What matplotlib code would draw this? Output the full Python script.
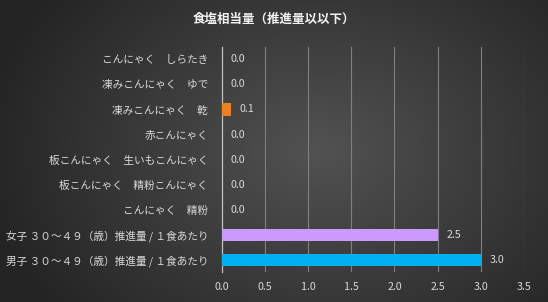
import numpy as np
from matplotlib import pyplot as plt
from matplotlib.colors import LinearSegmentedColormap

plt.rcParams['font.family'] = ['Noto Sans CJK JP', 'DejaVu Sans']
plt.rcParams['font.size'] = 7.7

categories = [
    '男子 ３０～４９（歳）推進量 / １食あたり',
    '女子 ３０～４９（歳）推進量 / １食あたり',
    'こんにゃく　精粉',
    '板こんにゃく　精粉こんにゃく',
    '板こんにゃく　生いもこんにゃく',
    '赤こんにゃく',
    '凍みこんにゃく　乾',
    '凍みこんにゃく　ゆで',
    'こんにゃく　しらたき',
]
values = [3.0, 2.5, 0.0, 0.0, 0.0, 0.0, 0.1, 0.0, 0.0]
colors = ['#00B0F0', '#CC99FF', '#F07F22', '#F07F22', '#F07F22',
          '#F07F22', '#F07F22', '#F07F22', '#F07F22']
xticks = [0.0, 0.5, 1.0, 1.5, 2.0, 2.5, 3.0, 3.5]

fig = plt.figure(figsize=(5.48, 3.02), dpi=100)

# background gradient (radial, lighter in the middle)
bg = fig.add_axes([0, 0, 1, 1])
yy, xx = np.mgrid[0:1:302j, 0:1:548j]
r = np.sqrt(((xx - 0.58) / 0.62) ** 2 + ((yy - 0.5) / 0.85) ** 2)
cmap = LinearSegmentedColormap.from_list('bg', ['#525252', '#242424'])
bg.imshow(np.clip(r, 0, 1), cmap=cmap, vmin=0, vmax=1,
          aspect='auto', extent=[0, 1, 0, 1], origin='lower')
bg.axis('off')

ax = fig.add_axes([0.405, 0.098, 0.551, 0.747])
ax.patch.set_alpha(0)
y = np.arange(len(categories))
ax.barh(y, values, height=0.5, color=colors, zorder=3)
for yi, v in zip(y, values):
    ax.text(v + 0.1, yi, f'{v:.1f}', va='center', ha='left', color='#D9D9D9', zorder=4)

ax.set_xlim(0, 3.5)
ax.set_ylim(-0.5, len(categories) - 0.5)
ax.set_xticks(xticks)
ax.set_xticklabels([f'{t:.1f}' for t in xticks])
ax.set_yticks(y)
ax.set_yticklabels(categories)
ax.tick_params(axis='y', colors='#D9D9D9', length=0, pad=10)
ax.tick_params(axis='x', colors='#D9D9D9', length=0, pad=7)
ax.grid(axis='x', color='#808080', linewidth=0.8, zorder=0)
for s in ['top', 'right', 'bottom']:
    ax.spines[s].set_visible(False)
ax.spines['left'].set_color('#BFBFBF')
ax.spines['left'].set_linewidth(0.9)

fig.text(0.5, 0.935, '食塩相当量（推進量以以下）', ha='center', va='center',
         color='#F2F2F2', fontsize=9, fontweight='bold')

plt.savefig('out.png', dpi=100)
